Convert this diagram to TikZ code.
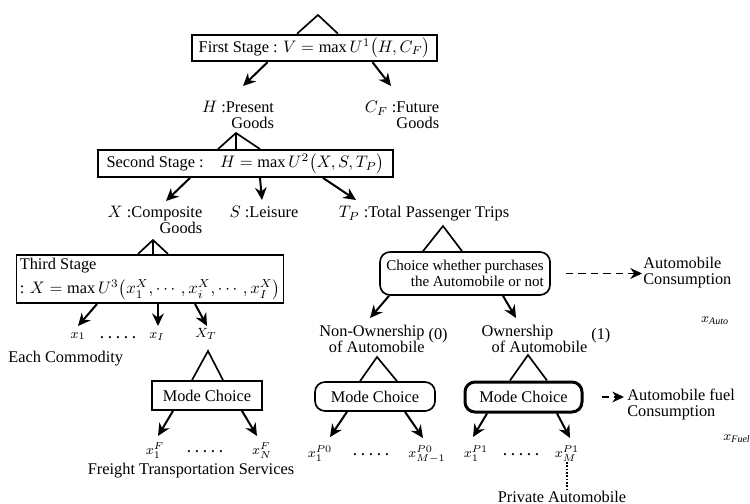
\documentclass[tikz,border=0pt]{standalone}
\usepackage{amsmath}
\usepackage{fontspec}
\setmainfont{Liberation Serif}
\usetikzlibrary{arrows.meta, positioning, calc}

\newcommand{\dgfont}{\fontsize{9.8}{9.6}\selectfont}
\newcommand{\dotrow}{\textbf{.\hspace{2.8pt}.\hspace{2.8pt}.\hspace{2.8pt}.\hspace{2.8pt}.}}

\begin{document}
\begin{tikzpicture}[
    x=0.6pt, y=-0.6pt,
    font=\dgfont,
    stage/.style={rectangle, draw, line width=1.1pt, inner sep=2pt},
    choicebox/.style={rectangle, draw, rounded corners=6pt, line width=1pt, inner sep=2pt},
    lbl/.style={inner sep=0pt},
    var/.style={inner sep=0pt, font=\footnotesize, anchor=base},
    arrow/.style={line width=1.2pt, -{Stealth[length=7.5pt,width=7pt]}},
    dasharrow/.style={line width=0.7pt, dash pattern=on 4.5pt off 3pt, -{Stealth[length=7pt,width=6.5pt]}},
    tri/.style={line width=1pt}
]
    \useasboundingbox (0,0) rectangle (750,504);

    % stages of the household problem
    \node[stage, minimum width=147pt, minimum height=15.6pt] (first) at (314.5,48) {First Stage : $V = \max U^1\bigl(H, C_F\bigr)$};
    \node[lbl, anchor=north, align=right] (hpres) at (238,101) {$H$ :Present\\Goods};
    \node[lbl, anchor=north, align=right] (cfut) at (402,101) {$C_F$ :Future\\Goods};
    \node[stage, minimum width=177pt, minimum height=16.2pt] (second) at (245.5,163.5) {Second Stage :\quad $H = \max U^2\bigl(X,S,T_P\bigr)$};
    \node[lbl, anchor=north, align=right] (xcomp) at (155,206) {$X$ :Composite\\Goods};
    \node[lbl, anchor=north] (leis) at (264,206) {$S$ :Leisure};
    \node[lbl, anchor=north] (trips) at (424,206) {$T_P$ :Total Passenger Trips};
    \node[stage, minimum width=147.6pt, minimum height=27pt, align=left] (third) at (150,279) {Third Stage\\[3pt]: $X = \max U^3\bigl(x_1^X,\cdots,x_i^X,\cdots,x_I^X\bigr)$};

    % commodities and freight
    \node[var] (x1) at (78,338) {$x_1$};
    \node[var] (dots1) at (118,338) {\dotrow};
    \node[var] (xi) at (157,338) {$x_I$};
    \node[var] (xt) at (206,337) {$X_T$};
    \node[lbl, anchor=west] (each) at (8,359) {Each Commodity};
    \node[stage, minimum width=66pt, minimum height=17.4pt] (fmode) at (207,395.5) {Mode Choice};
    \node[var] (xf1) at (155,454) {$x_1^F$};
    \node[var] (dots2) at (205,452) {\dotrow};
    \node[var] (xfn) at (262,454) {$x_N^F$};
    \node[lbl] (freight) at (191,471) {Freight Transportation Services};

    % passenger trips
    \node[choicebox, minimum width=102pt, minimum height=25.8pt, align=right, font=\fontsize{9}{9.6}\selectfont] (purch) at (465,273.5) {Choice whether purchases\\the Automobile or not};
    \node[lbl, anchor=west, align=left] (autoc) at (643,273) {Automobile\\Consumption};
    \node[var] (xauto) at (715,322) {$x_{\mathit{Auto}}$};
    \node[lbl, anchor=north, align=right] (nonown) at (372,325) {Non-Ownership\\of Automobile};
    \node[lbl, right=2pt of nonown, yshift=2pt] (zero) {(0)};
    \node[lbl, anchor=north, align=left] (own) at (534.5,325) {Ownership\\\hspace*{6pt}of Automobile};
    \node[lbl, right=2pt of own, yshift=2pt] (one) {(1)};
    \node[choicebox, minimum width=72pt, minimum height=17.4pt] (mode0) at (375,396.5) {Mode Choice};
    \node[choicebox, line width=1.8pt, minimum width=70.2pt, minimum height=18pt] (mode1) at (523.5,397) {Mode Choice};
    \node[lbl, anchor=west, align=left] (fuel) at (627,404) {Automobile fuel\\Consumption};
    \node[var] (xfuel) at (737,440) {$x_{\mathit{Fuel}}$};
    \node[var] (p01) at (320,457) {$x_1^{P0}$};
    \node[var] (dots3) at (371,455) {\dotrow};
    \node[var] (p0m) at (427,457) {$x_{M-1}^{P0}$};
    \node[var] (p11) at (476,457) {$x_1^{P1}$};
    \node[var] (dots4) at (521,455) {\dotrow};
    \node[var] (p1m) at (567,457) {$x_M^{P1}$};
    \node[lbl] (priv) at (562,497) {Private Automobile};

    % triangles
    \coordinate (topApex) at (318,15);
    \coordinate (hApex) at (236,133);
    \coordinate (xApex) at (153,240);
    \coordinate (xtApex) at (208,351);
    \coordinate (tApex) at (443,226);
    \coordinate (nApex) at (377,357);
    \coordinate (oApex) at (528,355);
    \draw[tri] ($(first.north)+(-17.5,0)$) -- (topApex) -- ($(first.north)+(23.5,0)$);
    \draw[tri] ($(second.north)+(-27.5,0)$) -- (hApex) -- ($(second.north)+(14.5,0)$);
    \draw[tri] (hApex) -- ($(second.north)+(-9.5,0)$);
    \draw[tri] ($(third.north)+(-12,0)$) -- (xApex) -- ($(third.north)+(18,0)$);
    \draw[tri] (xApex) -- ($(third.north)+(3,0)$);
    \draw[tri] ($(fmode.north)+(-15,0)$) -- (xtApex) -- ($(fmode.north)+(16,0)$);
    \draw[tri] ($(purch.north)+(-42,0)$) -- (tApex) -- ($(purch.north)+(-3,0)$);
    \draw[tri] ($(mode0.north)+(-15,0)$) -- (nApex) -- ($(mode0.north)+(22,0)$);
    \draw[tri] ($(mode1.north)+(-13.5,0)$) -- (oApex) -- ($(mode1.north)+(23.5,0)$);

    % arrows
    \draw[arrow] ($(first.south)+(-47,0)$) -- ($(hpres.north)+(5,-15)$);
    \draw[arrow] ($(first.south)+(58,0)$) -- ($(cfut.north)+(-11,-15)$);
    \draw[arrow] ($(second.south)+(-55.5,0)$) -- ($(xcomp.north)+(11,-5)$);
    \draw[arrow] ($(second.south)+(14.5,0)$) -- ($(leis.north)+(-2,-6)$);
    \draw[arrow] ($(second.south)+(77.5,0)$) -- ($(trips.north)+(-68,-6)$);
    \draw[arrow] ($(third.south)+(-53,0)$) -- ($(x1.base)+(0,-12)$);
    \draw[arrow] ($(third.south)+(8,0)$) -- ($(xi.base)+(1,-12)$);
    \draw[arrow] ($(third.south)+(45,0)$) -- ($(xt.base)+(1,-11)$);
    \draw[arrow] ($(fmode.south)+(-34,0)$) -- ($(xf1.base)+(3,-18)$);
    \draw[arrow] ($(fmode.south)+(35,0)$) -- ($(xfn.base)+(-5,-18)$);
    \draw[arrow] ($(purch.south)+(-76,0)$) -- ($(nonown.north)+(-2,-7)$);
    \draw[arrow] ($(purch.south)+(38,0)$) -- ($(own.north)+(-18.5,-7)$);
    \draw[arrow] ($(mode0.south)+(-28,0)$) -- ($(p01.base)+(10,-20)$);
    \draw[arrow] ($(mode0.south)+(30,0)$) -- ($(p0m.base)+(-4,-19)$);
    \draw[arrow] ($(mode1.south)+(-36.5,0)$) -- ($(p11.base)+(-3,-20)$);
    \draw[arrow] ($(mode1.south)+(33.5,0)$) -- ($(p1m.base)+(3,-19)$);
    \draw[dasharrow] ($(purch.east)+(15,0)$) -- ($(autoc.west |- purch.east)+(-1,0)$);
    \draw[dasharrow] ($(mode1.east)+(18,0)$) -- ($(fuel.west |- mode1.east)+(-3,0)$);
    \draw[line width=1pt, densely dotted] (p1m.south) -- (p1m.south |- priv.north);
\end{tikzpicture}
\end{document}
